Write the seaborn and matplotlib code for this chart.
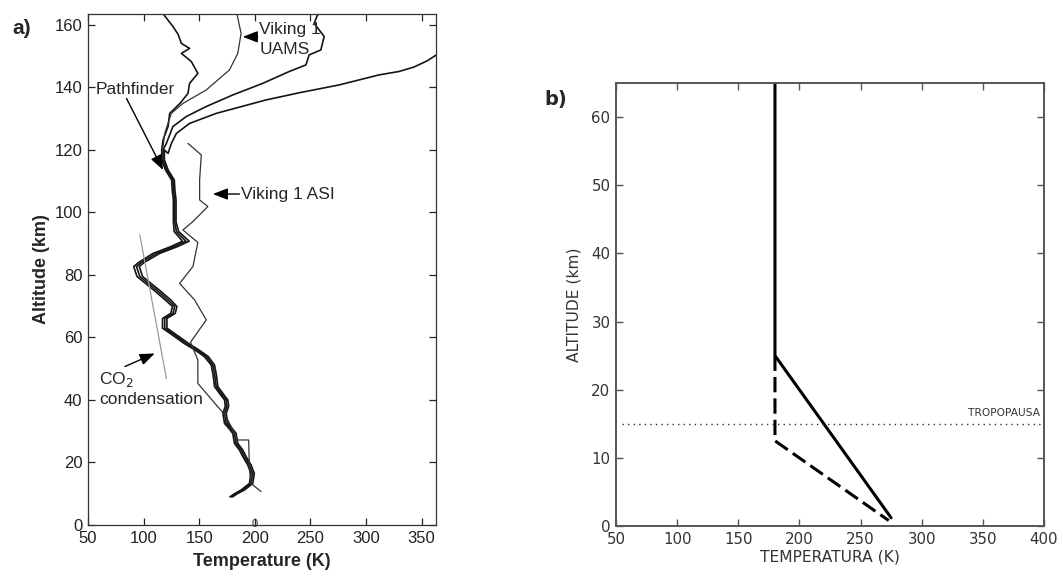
import numpy as np
import pandas as pd
import matplotlib
matplotlib.use("Agg")
import matplotlib.pyplot as plt
import seaborn as sns

sns.set_style("ticks")
plt.rcParams['font.family'] = ['Liberation Sans', 'DejaVu Sans']

# ---------------- Panel a data (Mars) ----------------
pf_alt = [9, 10, 11.2, 13.3, 16.5, 19.2, 21.9, 24, 26.1, 29.3, 31, 32.5, 35.7, 38, 40, 42,
          44.3, 48, 51.2, 53.9, 56, 58.1, 60.5, 63, 66.1, 67.7, 69.9, 72, 75.2, 79.5, 82.7,
          84, 86.9, 89, 90.8, 93.9, 97, 100, 104, 107, 110.4, 113.5, 116.8, 120]
pf_temp = [178.8, 183, 189.2, 196.7, 198.1, 195.2, 190.7, 187.7, 183.2, 181.7, 178, 174.3,
           172.8, 175, 174.3, 170, 165.3, 164, 162.3, 156.4, 148, 138.4, 129, 119, 119, 126.4,
           128, 122, 111.5, 96.6, 93.6, 98, 111.5, 127, 138, 129.5, 128, 128, 128, 127, 126.4,
           121, 117.5, 117.5]
pf_spread = [1.2, 1.2, 1.5, 1.5, 1.5, 1.5, 1.5, 1.5, 1.5, 1.5, 1.5, 1.5, 1.5, 1.5, 1.5, 1.5,
             1.5, 1.5, 1.5, 1.8, 1.8, 2, 2, 2, 2, 2, 2, 2.5, 2.5, 2.5, 2.5, 2.5, 3, 3, 3, 2,
             1.2, 1.2, 1.2, 1.2, 1.2, 1.2, 1.2, 1.2]

# upper branches (above ~120 km)
upA_alt = [123.2, 127.5, 131.7, 135, 138.1, 141.3, 144.5, 148.3, 150.9, 152.5, 154.1, 157,
           159.5, 162.9, 163.5]
upA_temp = [117.5, 122, 123.5, 133, 139.9, 141.4, 148.8, 142.9, 134, 141.4, 134, 131,
            126.4, 119, 118]
upC_alt = [122.1, 127.5, 130.7, 133.9, 137.6, 141.3, 145.1, 147.2, 150.4, 152, 156.3, 160.5,
           163.2, 163.5]
upC_temp = [120.5, 126.4, 138.4, 156.4, 180.2, 207.1, 231, 246, 248.9, 259.4, 262.4, 253.4,
            256.4, 258]
upD_alt = [118.9, 122.1, 125.3, 128.5, 131.7, 136.0, 138.3, 140.8, 144.0, 145.1, 146.5,
           148.5, 151]
upD_temp = [122, 125, 129.5, 141.4, 165.3, 210.1, 240, 275.8, 311.6, 329.6, 343, 355, 366]

# Viking 1 UAMS
uams_alt = [121.1, 125.3, 131.7, 134.9, 139.2, 145.6, 150.9, 157.3, 163.5]
uams_temp = [117.5, 119, 124.9, 135.4, 156.4, 177.2, 184.7, 187.7, 184]

# Viking 1 ASI
asi_alt = [10.7, 13.3, 17.6, 27.2, 27.2, 30.4, 34.7, 45.3, 52.8, 58.5, 65.6, 72, 77.3, 82.7,
           90.4, 94.4, 97.1, 101.9, 104, 110.4, 118.4, 122.1]
asi_temp = [205.6, 196.7, 195.2, 194.5, 184.7, 180.2, 174.3, 148.8, 148.8, 142.2, 156.4, 145.9,
            132.4, 144.4, 148.8, 135.4, 144.4, 157.8, 150.4, 150.4, 151.9, 139.9]

# CO2 condensation curve
co2_alt = [92.8, 46.9]
co2_temp = [96.6, 120.5]

# ---------------- Panel b data (Earth model) ----------------
b_solid_temp = [180, 180, 275]
b_solid_alt = [65, 25, 1.2]
b_dash_temp = [180, 180, 273]
b_dash_alt = [25, 12.5, 0.8]
tropopause_alt = 15

a_xticks = [50, 100, 150, 200, 250, 300, 350]
a_yticks = [0, 20, 40, 60, 80, 100, 120, 140, 160]
b_xticks = [50, 100, 150, 200, 250, 300, 350, 400]
b_yticks = [0, 10, 20, 30, 40, 50, 60]

W, H = 1063, 578
fig = plt.figure(figsize=(W / 100, H / 100), dpi=100)
axa = fig.add_axes([88 / W, (H - 525) / H, (436 - 88) / W, (525 - 14) / H])
axb = fig.add_axes([616 / W, (H - 526) / H, (1044 - 616) / W, (526 - 83) / H])

# ---------- panel a ----------
lc = '#151515'
pf_lo = [t - s for t, s in zip(pf_temp, pf_spread)]
pf_hi = [t + s for t, s in zip(pf_temp, pf_spread)]
for base, up_t, up_a in [(pf_lo, upA_temp, upA_alt), (pf_temp, upC_temp, upC_alt),
                         (pf_hi, upD_temp, upD_alt)]:
    df = pd.DataFrame({'T': list(base) + list(up_t), 'A': list(pf_alt) + list(up_a)})
    sns.lineplot(data=df, x='T', y='A', sort=False, estimator=None, ax=axa,
                 color=lc, lw=1.2)
sns.lineplot(x=uams_temp, y=uams_alt, sort=False, estimator=None, ax=axa, color='#333333', lw=0.9)
sns.lineplot(x=asi_temp, y=asi_alt, sort=False, estimator=None, ax=axa, color='#333333', lw=0.9)
sns.lineplot(x=co2_temp, y=co2_alt, sort=False, estimator=None, ax=axa, color='#9a9a9a', lw=0.9)

axa.set_xlim(50, 363)
axa.set_ylim(0, 163.5)
axa.set_xticks(a_xticks)
axa.set_yticks(a_yticks)
axa.tick_params(direction='in', length=5, width=0.9, top=True, right=True,
                labelsize=12, colors='#222222', pad=4)
for s in axa.spines.values():
    s.set_color('#333333')
    s.set_linewidth(0.9)
axa.set_xlabel('Temperature (K)', fontsize=13, fontweight='bold', labelpad=5)
axa.set_ylabel('Altitude (km)', fontsize=13, fontweight='bold', labelpad=3)

fs = 12.5
ap = dict(arrowstyle='-|>,head_length=0.9,head_width=0.35', color='k', lw=1.0, shrinkA=0, shrinkB=0)
axa.text(56.5, 139.5, 'Pathfinder', fontsize=fs, va='center', ha='left')
axa.annotate('', xy=(117.5, 113.6), xytext=(84.6, 136.5), arrowprops=ap)
axa.text(203.5, 158.6, 'Viking 1', fontsize=fs, va='center', ha='left')
axa.text(204, 152.0, 'UAMS', fontsize=fs, va='center', ha='left')
axa.annotate('', xy=(189.2, 156.2), xytext=(202.6, 156.2), arrowprops=ap)
axa.text(187.7, 105.9, 'Viking 1 ASI', fontsize=fs, va='center', ha='left')
axa.annotate('', xy=(162.3, 105.9), xytext=(186.2, 105.9), arrowprops=ap)
axa.text(60.1, 46.6, 'CO$_2$', fontsize=fs, va='center', ha='left')
axa.text(60.1, 40.3, 'condensation', fontsize=fs, va='center', ha='left')
axa.annotate('', xy=(110, 54.9), xytext=(83.2, 50.7), arrowprops=ap)
axa.text(200, 0.3, '0', fontsize=8, ha='center', va='center', color='#333333')

fig.text(22 / W, 1 - 29 / H, 'a)', fontsize=15, fontweight='bold', ha='center', va='center')

# ---------- panel b ----------
fb = ['DejaVu Sans']
sns.lineplot(x=b_solid_temp, y=b_solid_alt, sort=False, estimator=None, ax=axb, color='black', lw=2.2)
sns.lineplot(x=b_dash_temp, y=b_dash_alt, sort=False, estimator=None, ax=axb, color='black', lw=2.2,
             linestyle=(0, (5, 2)))
axb.plot([55, 400], [tropopause_alt, tropopause_alt], color='#333333', lw=1.0, linestyle=(0, (1, 3)))
axb.text(397, 16.6, 'TROPOPAUSA', fontsize=7.7, ha='right', va='center', color='#333333', family=fb)

axb.set_xlim(50, 400)
axb.set_ylim(0, 65)
axb.set_xticks(b_xticks)
axb.set_yticks(b_yticks)
axb.tick_params(direction='in', length=5, width=1.0, top=True, right=True,
                labelsize=10.8, colors='#555555', labelcolor='#333333', pad=4)
for lab in axb.get_xticklabels() + axb.get_yticklabels():
    lab.set_family(fb)
for s in axb.spines.values():
    s.set_color('#555555')
    s.set_linewidth(1.4)
axb.set_xlabel('TEMPERATURA (K)', fontsize=11.2, color='#333333', family=fb, labelpad=2)
axb.set_ylabel('ALTITUDE (km)', fontsize=11.2, color='#333333', family=fb, labelpad=7)
fig.text(556 / W, 1 - 100 / H, 'b)', fontsize=14, fontweight='bold', ha='center', va='center',
         family=['DejaVu Sans'])

fig.savefig('out.png', dpi=100, facecolor='white')
